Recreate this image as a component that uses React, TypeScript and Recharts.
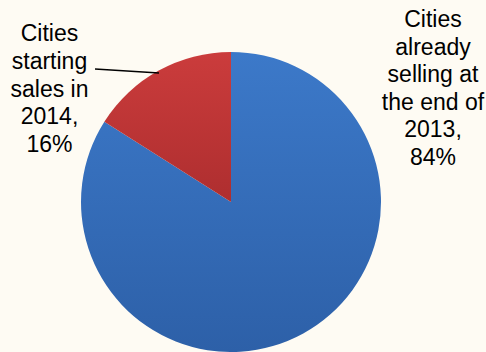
import { PieChart, Pie, Cell } from "recharts";

const categories = ["Cities already selling at the end of 2013", "Cities starting sales in 2014"];
const shares = [84, 16];
const labelLines = [
  ["Cities", "already", "selling at", "the end of", "2013,"],
  ["Cities", "starting", "sales in", "2014,"],
];

const data = categories.map((name, i) => ({ name, value: shares[i] }));

const fills = ["url(#blueGrad)", "url(#redGrad)"];
// hand-placed label boxes, like the original
const labelAnchor = [
  { x: 433, y: 27, step: 27.5 },
  { x: 49.5, y: 41, step: 27.8 },
];

const renderLabel = (props: any) => {
  const i = props.index;
  const a = labelAnchor[i];
  const lines = [...labelLines[i], `${shares[i]}%`];
  return (
    <g key={`lbl-${i}`}>
      {i === 1 && <line x1={95} y1={69} x2={159} y2={73} stroke="#000" strokeWidth={1.6} />}
      <text
        x={a.x}
        y={a.y}
        textAnchor="middle"
        fill="#000"
        fontFamily="'Liberation Sans', Arial, sans-serif"
        fontSize={23}
      >
        {lines.map((l, k) => (
          <tspan key={k} x={a.x} y={a.y + k * a.step}>
            {l}
          </tspan>
        ))}
      </text>
    </g>
  );
};

export default function App() {
  return (
    <div style={{ position: "absolute", left: 0, top: 0, width: 486, height: 352, background: "#FEFBF3" }}>
      <PieChart width={486} height={352} margin={{ top: 0, right: 0, bottom: 0, left: 0 }}>
        <defs>
          <linearGradient id="blueGrad" x1="0" y1="0" x2="0" y2="1">
            <stop offset="0%" stopColor="#3C79C9" />
            <stop offset="100%" stopColor="#2D60A8" />
          </linearGradient>
          <linearGradient id="redGrad" x1="0" y1="0" x2="0" y2="1">
            <stop offset="0%" stopColor="#CB3C3C" />
            <stop offset="100%" stopColor="#AE2E2F" />
          </linearGradient>
        </defs>
        <Pie
          data={data}
          dataKey="value"
          nameKey="name"
          cx={231}
          cy={202}
          outerRadius={150}
          startAngle={90}
          endAngle={-270}
          stroke="none"
          label={renderLabel}
          labelLine={false}
          isAnimationActive={false}
        >
          {data.map((d, i) => (
            <Cell key={d.name} fill={fills[i]} />
          ))}
        </Pie>
      </PieChart>
    </div>
  );
}
